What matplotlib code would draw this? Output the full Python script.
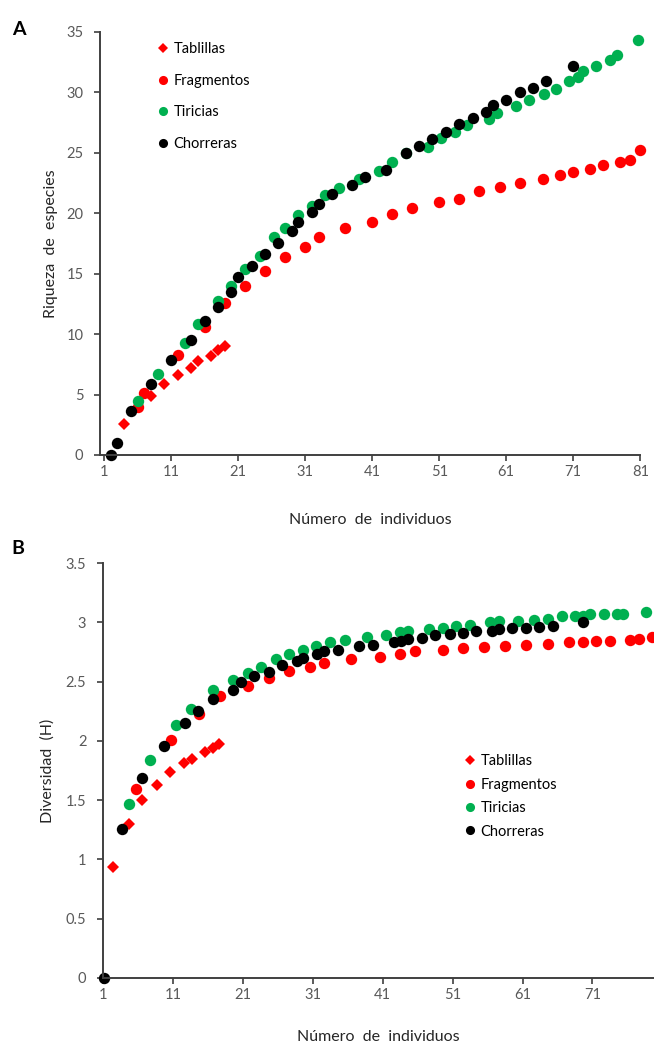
import matplotlib
matplotlib.use('Agg')
import matplotlib.pyplot as plt

plt.rcParams['font.family'] = ['Lato', 'DejaVu Sans']

# Panel A: riqueza de especies
a_tab_x = [4, 6, 8, 10, 12, 14, 15, 17, 18, 19]
a_tab_y = [2.6, 4.0, 4.9, 5.85, 6.6, 7.2, 7.8, 8.2, 8.7, 9.0]
a_fra_x = [6, 7, 12, 16, 19, 22, 25, 28, 31, 33, 37, 41, 44, 47, 51, 54, 57, 60, 63, 66.5,
           69, 71, 73.5, 75.5, 78, 79.5, 81]
a_fra_y = [3.95, 5.15, 8.27, 10.56, 12.6, 14.0, 15.2, 16.35, 17.2, 18.0, 18.8, 19.3, 19.9,
           20.45, 20.9, 21.2, 21.8, 22.2, 22.5, 22.8, 23.2, 23.4, 23.7, 24.0, 24.2, 24.4, 25.2]
a_tir_x = [6, 9, 13, 15, 18, 20, 22, 24.3, 26.3, 28, 30, 32, 34, 36, 39, 42, 44, 46, 49.4,
           51.3, 53.4, 55.2, 58.4, 59.6, 62.4, 64.4, 66.6, 68.5, 70.3, 71.7, 72.5, 74.4,
           76.5, 77.5, 80.6]
a_tir_y = [4.5, 6.7, 9.24, 10.8, 12.7, 14.0, 15.4, 16.5, 18.0, 18.75, 19.85, 20.6, 21.5,
           22.1, 22.8, 23.5, 24.2, 24.95, 25.5, 26.2, 26.7, 27.3, 27.8, 28.3, 28.9, 29.4,
           29.9, 30.3, 30.9, 31.3, 31.8, 32.2, 32.7, 33.1, 34.3]
a_cho_x = [2, 3, 5, 8, 11, 14, 16, 18, 20, 21, 23, 25, 27, 29, 30, 32, 33, 35, 38, 40, 43,
           46, 48, 50, 52, 54, 56, 58, 59, 61, 63, 65, 67, 71]
a_cho_y = [0, 1, 3.6, 5.85, 7.86, 9.49, 11.08, 12.27, 13.5, 14.75, 15.6, 16.6, 17.5, 18.5,
           19.3, 20.1, 20.8, 21.6, 22.3, 23.0, 23.6, 25.0, 25.6, 26.1, 26.7, 27.4, 27.85,
           28.4, 28.95, 29.4, 30.05, 30.4, 30.9, 32.2]

# Panel B: diversidad (H)
b_tab_x = [2.5, 4.7, 6.6, 8.7, 10.6, 12.6, 13.7, 15.6, 16.8, 17.6]
b_tab_y = [0.94, 1.30, 1.50, 1.63, 1.74, 1.81, 1.85, 1.91, 1.94, 1.97]
b_fra_x = [5.7, 10.7, 14.7, 17.7, 21.7, 24.7, 27.6, 30.6, 32.6, 36.5, 40.6, 43.5, 45.6,
           49.6, 52.5, 55.5, 58.5, 61.5, 64.6, 67.6, 69.6, 71.5, 73.5, 76.4, 77.6, 79.5]
b_fra_y = [1.59, 2.01, 2.23, 2.38, 2.46, 2.53, 2.59, 2.62, 2.66, 2.69, 2.71, 2.73, 2.76,
           2.77, 2.78, 2.79, 2.80, 2.81, 2.82, 2.83, 2.83, 2.84, 2.84, 2.85, 2.86, 2.88]
b_tir_x = [4.7, 7.7, 11.5, 13.6, 16.8, 19.6, 21.7, 23.6, 25.7, 27.6, 29.6, 31.5, 33.5,
           35.6, 38.7, 41.5, 43.5, 44.6, 47.6, 49.6, 51.5, 53.5, 56.4, 57.6, 60.4, 62.6,
           64.6, 66.6, 68.5, 69.7, 70.6, 72.6, 74.5, 75.4, 78.6]
b_tir_y = [1.47, 1.84, 2.13, 2.27, 2.43, 2.51, 2.57, 2.62, 2.69, 2.73, 2.77, 2.80, 2.83,
           2.85, 2.88, 2.89, 2.92, 2.93, 2.94, 2.95, 2.97, 2.98, 3.00, 3.01, 3.01, 3.02,
           3.03, 3.05, 3.05, 3.05, 3.07, 3.07, 3.07, 3.07, 3.09]
b_cho_x = [1.2, 3.7, 6.6, 9.7, 12.7, 14.6, 16.8, 19.6, 20.7, 22.6, 24.7, 26.6, 28.7, 29.6,
           31.6, 32.6, 34.6, 37.6, 39.6, 42.6, 43.6, 44.6, 46.6, 48.5, 50.6, 52.5, 54.4,
           56.6, 57.6, 59.5, 61.5, 63.4, 65.4, 69.6]
b_cho_y = [0, 1.26, 1.69, 1.96, 2.15, 2.25, 2.35, 2.43, 2.50, 2.55, 2.58, 2.64, 2.67, 2.70,
           2.73, 2.76, 2.77, 2.80, 2.81, 2.83, 2.84, 2.86, 2.87, 2.89, 2.90, 2.91, 2.93,
           2.93, 2.94, 2.95, 2.95, 2.96, 2.97, 3.00]

series_names = ['Tablillas', 'Fragmentos', 'Tiricias', 'Chorreras']
colors = ['#ff0000', '#ff0000', '#00b050', '#000000']
markers = ['D', 'o', 'o', 'o']
sizes = [6, 8.2, 8.2, 8.2]

x_ticks = [1, 11, 21, 31, 41, 51, 61, 71, 81]
a_yticks = [0, 5, 10, 15, 20, 25, 30, 35]
b_yticks = [0, 0.5, 1, 1.5, 2, 2.5, 3, 3.5]
b_ylabels = ['0', '0.5', '1', '1.5', '2', '2.5', '3', '3.5']

gray = '#595959'
spine = '#404040'

fig = plt.figure(figsize=(6.54, 10.5), dpi=100)
ax1 = fig.add_axes([0.153, 0.5667, 0.826, 0.4029])
ax2 = fig.add_axes([0.1575, 0.0686, 0.8425, 0.3952])


def style(ax):
    for s in ['top', 'right']:
        ax.spines[s].set_visible(False)
    for s in ['left', 'bottom']:
        ax.spines[s].set_color(spine)
        ax.spines[s].set_linewidth(1.4)
    ax.tick_params(colors=spine, labelcolor=gray, labelsize=10.5, length=4, width=1.2)
    ax.tick_params(axis='y', pad=8)


data_a = [(a_tab_x, a_tab_y), (a_fra_x, a_fra_y), (a_tir_x, a_tir_y), (a_cho_x, a_cho_y)]
data_b = [(b_tab_x, b_tab_y), (b_fra_x, b_fra_y), (b_tir_x, b_tir_y), (b_cho_x, b_cho_y)]

for ax, data in [(ax1, data_a), (ax2, data_b)]:
    for (xs, ys), name, c, m, ms in zip(data, series_names, colors, markers, sizes):
        ax.plot(xs, ys, linestyle='none', marker=m, color=c, markersize=ms,
                markeredgewidth=0, label=name, clip_on=False)
    style(ax)

ax1.set_xlim(0.4, 81)
ax1.set_ylim(0, 35)
ax1.set_xticks(x_ticks)
ax1.set_yticks(a_yticks)
ax1.set_xlabel('Número  de  individuos', fontsize=11.5, color='#262626', labelpad=24)
ax1.set_ylabel('Riqueza  de  especies', fontsize=11.5, color='#262626', labelpad=6)
ax1.legend(loc='upper left', bbox_to_anchor=(0.095, 0.993), frameon=False, fontsize=10.5,
           handlelength=0.6, handletextpad=0.4, labelspacing=1.2, markerscale=0.8,
           borderpad=0)

ax2.set_xlim(1, 79.8)
ax2.set_ylim(0, 3.5)
ax2.set_xticks(x_ticks[:-1])
ax2.set_yticks(b_yticks)
ax2.set_yticklabels(b_ylabels)
ax2.set_xlabel('Número  de  individuos', fontsize=11.5, color='#262626', labelpad=20)
ax2.set_ylabel('Diversidad  (H)', fontsize=11.5, color='#262626', labelpad=8)
ax2.legend(loc='upper left', bbox_to_anchor=(0.645, 0.557), frameon=False, fontsize=10.5,
           handlelength=0.6, handletextpad=0.4, labelspacing=0.65, markerscale=0.8,
           borderpad=0)

fig.text(0.018, 0.972, 'A', fontsize=14, fontweight='bold', va='center')
fig.text(0.018, 0.478, 'B', fontsize=14, fontweight='bold', va='center')

fig.savefig('out.png', dpi=100)
